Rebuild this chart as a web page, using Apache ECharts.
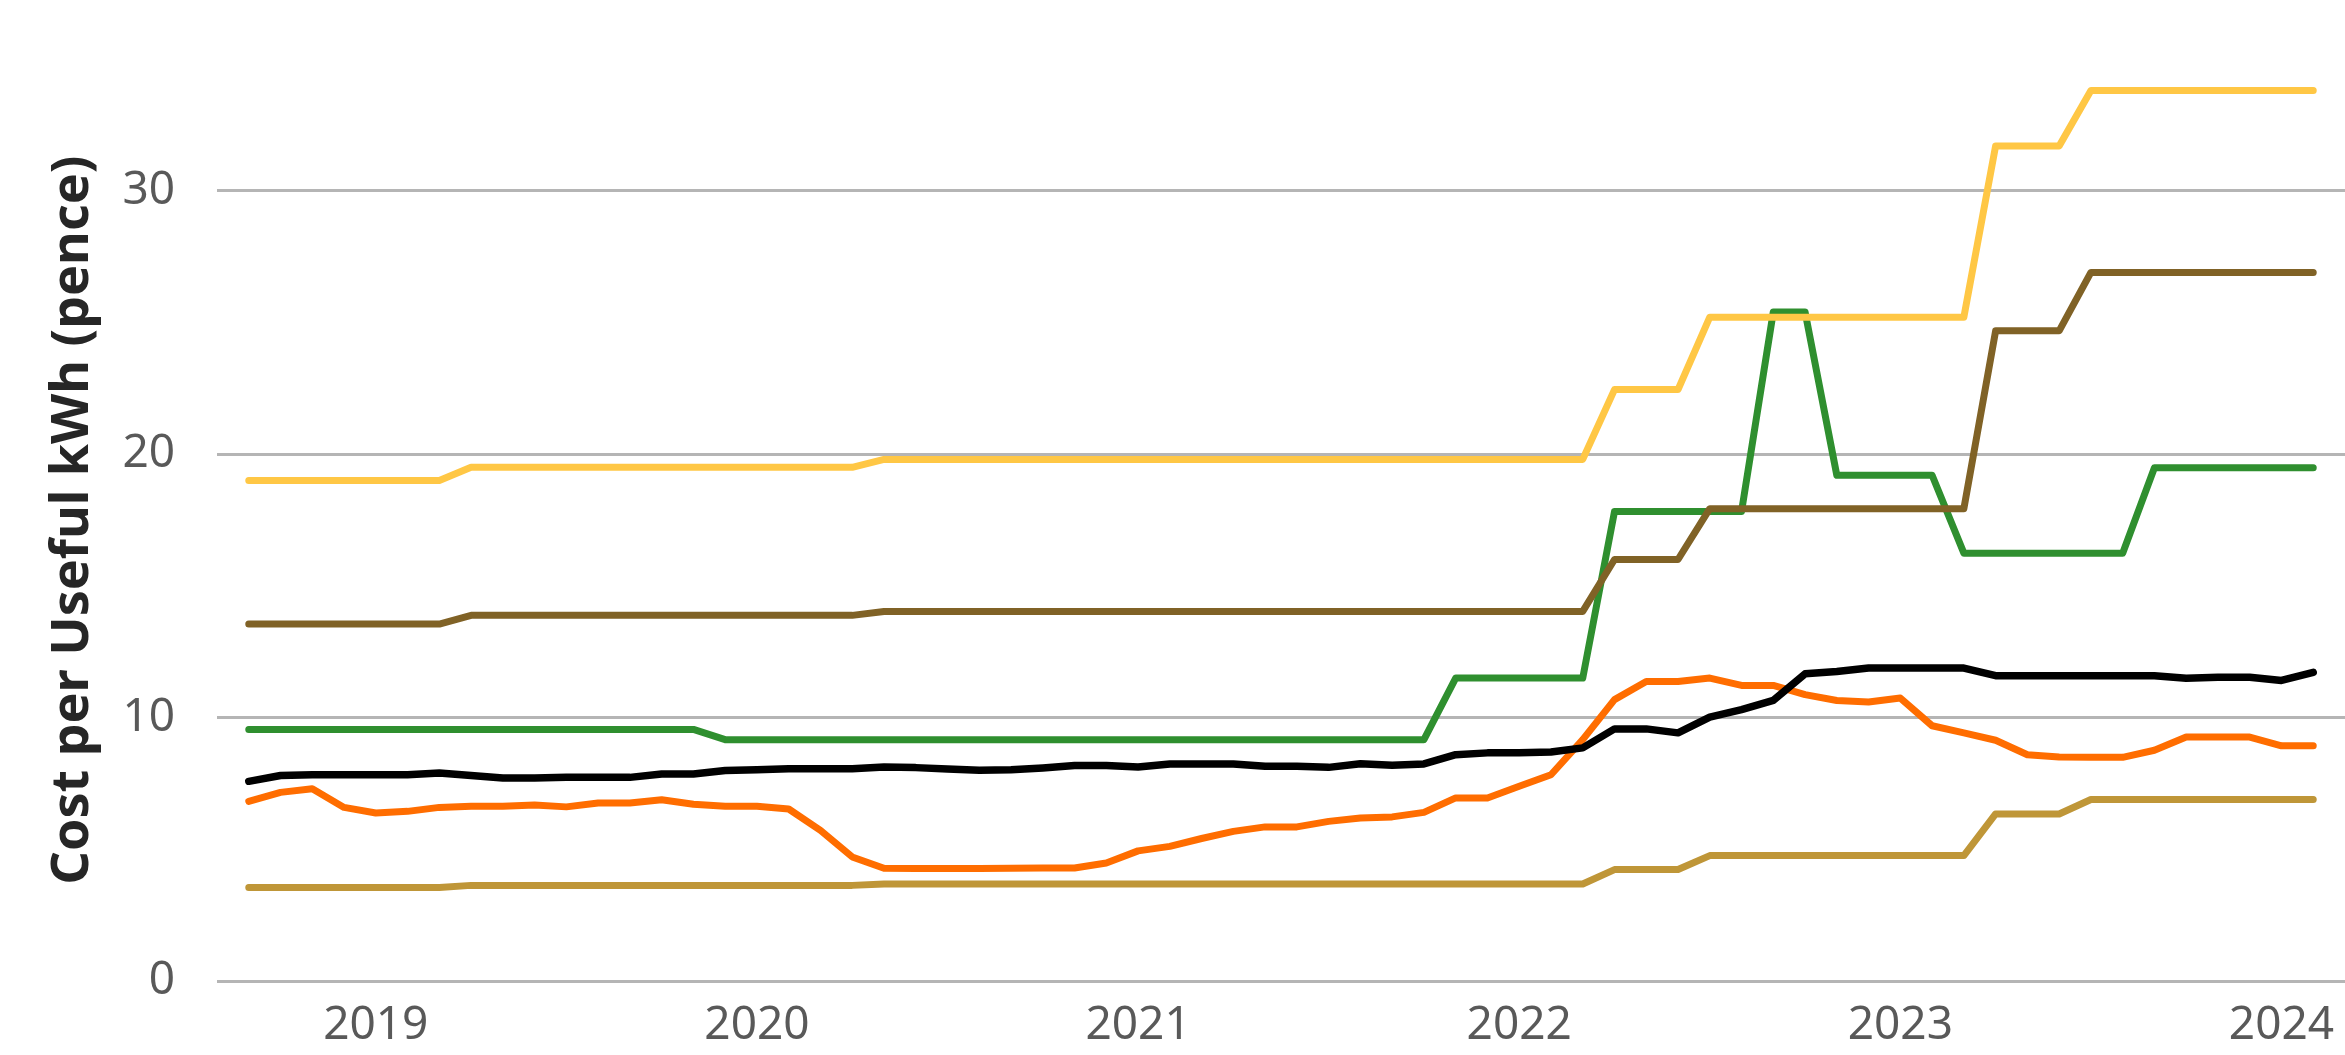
<!DOCTYPE html>
<html>
<head>
<meta charset="utf-8">
<title>Cost per Useful kWh</title>
<script src="https://cdn.jsdelivr.net/npm/echarts@6/dist/echarts.min.js"></script>
<style>
    html, body { margin: 0; padding: 0; background: #ffffff; }
    #chart { width: 2345px; height: 1055px; }
</style>
</head>
<body>
<div id="chart"></div>
<script>
    // monthly axis, one empty month on each side of the data (Aug 2018 .. Mar 2024)
    var months = [];
    for (var y = 2018; y <= 2024; y++) {
        for (var m = 1; m <= 12; m++) {
            if (y === 2018 && m < 8) continue;
            if (y === 2024 && m > 3) continue;
            months.push(y + '-' + (m < 10 ? '0' + m : m));
        }
    }
    var yearTicks = ['2019', '2020', '2021', '2022', '2023', '2024'];

    // values Sep 2018 .. Feb 2024, pence per useful kWh
    var yellowLine = [
        19.0, 19.0, 19.0, 19.0, 19.0, 19.0, 19.0,
        19.5, 19.5, 19.5, 19.5, 19.5, 19.5, 19.5, 19.5, 19.5, 19.5, 19.5, 19.5, 19.5,
        19.8, 19.8, 19.8, 19.8, 19.8, 19.8, 19.8, 19.8, 19.8, 19.8, 19.8, 19.8,
        19.8, 19.8, 19.8, 19.8, 19.8, 19.8, 19.8, 19.8, 19.8, 19.8, 19.8,
        22.45, 22.45, 22.45,
        25.2, 25.2, 25.2, 25.2, 25.2, 25.2, 25.2, 25.2, 25.2,
        31.7, 31.7, 31.7,
        33.8, 33.8, 33.8, 33.8, 33.8, 33.8, 33.8, 33.8
    ];
    var brownLine = [
        13.55, 13.55, 13.55, 13.55, 13.55, 13.55, 13.55,
        13.88, 13.88, 13.88, 13.88, 13.88, 13.88, 13.88, 13.88, 13.88, 13.88, 13.88, 13.88, 13.88,
        14.03, 14.03, 14.03, 14.03, 14.03, 14.03, 14.03, 14.03, 14.03, 14.03, 14.03, 14.03,
        14.03, 14.03, 14.03, 14.03, 14.03, 14.03, 14.03, 14.03, 14.03, 14.03, 14.03,
        16.0, 16.0, 16.0,
        17.93, 17.93, 17.93, 17.93, 17.93, 17.93, 17.93, 17.93, 17.93,
        24.68, 24.68, 24.68,
        26.9, 26.9, 26.9, 26.9, 26.9, 26.9, 26.9, 26.9
    ];
    var greenLine = [
        9.55, 9.55, 9.55, 9.55, 9.55, 9.55, 9.55, 9.55, 9.55, 9.55, 9.55, 9.55, 9.55, 9.55, 9.55,
        9.16, 9.16, 9.16, 9.16, 9.16, 9.16, 9.16, 9.16, 9.16, 9.16, 9.16, 9.16,
        9.16, 9.16, 9.16, 9.16, 9.16, 9.16, 9.16, 9.16, 9.16, 9.16, 9.16,
        11.5, 11.5, 11.5, 11.5, 11.5,
        17.82, 17.82, 17.82, 17.82, 17.82,
        25.4, 25.4,
        19.2, 19.2, 19.2, 19.2,
        16.24, 16.24, 16.24, 16.24, 16.24, 16.24,
        19.48, 19.48, 19.48, 19.48, 19.48, 19.48
    ];
    var tanLine = [
        3.55, 3.55, 3.55, 3.55, 3.55, 3.55, 3.55,
        3.63, 3.63, 3.63, 3.63, 3.63, 3.63, 3.63, 3.63, 3.63, 3.63, 3.63, 3.63, 3.63,
        3.68, 3.68, 3.68, 3.68, 3.68, 3.68, 3.68, 3.68, 3.68, 3.68, 3.68, 3.68,
        3.68, 3.68, 3.68, 3.68, 3.68, 3.68, 3.68, 3.68, 3.68, 3.68, 3.68,
        4.23, 4.23, 4.23,
        4.76, 4.76, 4.76, 4.76, 4.76, 4.76, 4.76, 4.76, 4.76,
        6.34, 6.34, 6.34,
        6.89, 6.89, 6.89, 6.89, 6.89, 6.89, 6.89, 6.89
    ];
    var blackLine = [
        7.58, 7.80, 7.83, 7.83, 7.83, 7.83, 7.90, 7.80, 7.71, 7.71, 7.73, 7.73,
        7.73, 7.86, 7.86, 7.99, 8.02, 8.06, 8.06, 8.06, 8.12, 8.10, 8.05,
        8.00, 8.02, 8.09, 8.18, 8.18, 8.12, 8.24, 8.24, 8.24, 8.15, 8.15,
        8.11, 8.25, 8.19, 8.24, 8.59, 8.66, 8.66, 8.69, 8.85, 9.57, 9.57, 9.42,
        10.02, 10.30, 10.65, 11.66, 11.75, 11.88, 11.88, 11.88, 11.88,
        11.59, 11.59, 11.59, 11.59, 11.59, 11.59, 11.49, 11.53, 11.53, 11.41, 11.72
    ];
    var orangeLine = [
        6.82, 7.16, 7.30, 6.59, 6.38, 6.44, 6.59, 6.63, 6.63, 6.68, 6.61, 6.76,
        6.76, 6.88, 6.71, 6.63, 6.63, 6.53, 5.72, 4.71, 4.28, 4.27, 4.27,
        4.27, 4.28, 4.29, 4.29, 4.48, 4.94, 5.11, 5.41, 5.68, 5.85, 5.85,
        6.06, 6.19, 6.23, 6.40, 6.95, 6.95, 7.39, 7.83, 9.16, 10.68, 11.37, 11.37,
        11.50, 11.22, 11.22, 10.87, 10.65, 10.59, 10.74, 9.69, 9.42, 9.14,
        8.59, 8.50, 8.49, 8.49, 8.76, 9.26, 9.26, 9.26, 8.93, 8.93
    ];

    // pad with the empty first / last month
    function pad(arr) { return [null].concat(arr, [null]); }

    function line(name, data, color, width) {
        return {
            name: name,
            type: 'line',
            data: pad(data),
            showSymbol: false,
            lineStyle: { color: color, width: width, cap: 'round', join: 'round' },
            itemStyle: { color: color }
        };
    }

    var chart = echarts.init(document.getElementById('chart'));
    chart.setOption({
        animation: false,
        textStyle: { fontFamily: 'Noto Sans' },
        grid: { left: 217, right: 0, top: 59, bottom: 74 },
        xAxis: {
            type: 'category',
            data: months,
            boundaryGap: false,
            axisLine: { show: false },
            axisTick: { show: false },
            splitLine: { show: false },
            axisLabel: {
                // a year label on each January
                interval: function (idx, val) { return yearTicks.indexOf(val.slice(0, 4)) >= 0 && val.slice(5) === '01'; },
                formatter: function (val) { return val.slice(0, 4); },
                color: '#595959',
                fontSize: 46,
                margin: 22
            }
        },
        yAxis: {
            type: 'value',
            min: 0,
            max: 35,
            interval: 10,
            name: 'Cost per Useful kWh (pence)',
            nameLocation: 'middle',
            nameGap: 118,
            nameTextStyle: { fontSize: 52, fontWeight: 'bold', color: '#262626' },
            axisLine: { show: false },
            axisTick: { show: false },
            axisLabel: { color: '#595959', fontSize: 46, margin: 42, showMaxLabel: false },
            splitLine: { show: true, showMaxLine: false, lineStyle: { color: '#b5b5b5', width: 3 } }
        },
        series: [
            line('green', greenLine, '#2f8f2f', 7),
            line('brown', brownLine, '#806226', 7),
            line('tan', tanLine, '#bf9638', 7),
            line('orange', orangeLine, '#ff6d00', 7),
            line('black', blackLine, '#000000', 7.5),
            line('yellow', yellowLine, '#ffc745', 7)
        ]
    });
</script>
</body>
</html>
